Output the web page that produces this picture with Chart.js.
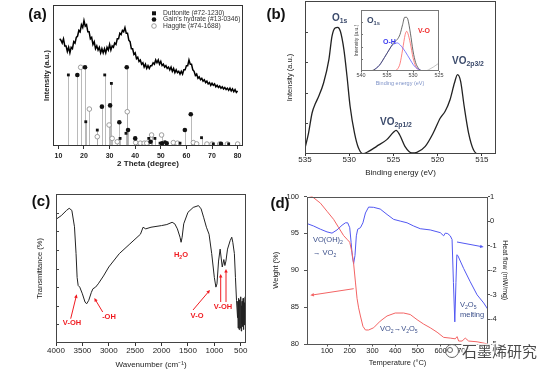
<!DOCTYPE html>
<html>
<head>
<meta charset="utf-8">
<script src="https://cdn.jsdelivr.net/npm/chart.js@4.4.1/dist/chart.umd.min.js"></script>
<style>
  body { margin: 0; background: #fff; }
  #fig { position: relative; width: 554px; height: 374px; overflow: hidden; background: #fff; }
  #fig canvas { position: absolute; }
</style>
</head>
<body>
<div id="fig">
  <canvas id="chartA" width="277" height="187" style="left:0;top:0"></canvas>
  <canvas id="chartB" width="299" height="187" style="left:255px;top:0"></canvas>
  <canvas id="chartInset" width="112" height="86" style="left:335px;top:4px"></canvas>
  <canvas id="chartC" width="277" height="187" style="left:0;top:187px"></canvas>
  <canvas id="chartD" width="292" height="187" style="left:262px;top:187px"></canvas>
</div>
<script>
// ---- (a) XRD pattern and reference cards ----
const xrdTheta = [
  10.5, 11, 11.5, 12, 12.5, 13, 13.5, 14, 14.5, 15, 15.5,
  16, 16.5, 17, 17.5, 18, 18.5, 19, 19.5, 20, 20.5,
  21, 21.5, 22, 22.5, 23, 23.5, 24, 24.5, 25, 25.5,
  26, 26.5, 27, 27.5, 28, 28.5, 29, 29.5, 30, 30.5,
  31, 31.5, 32, 32.5, 33, 33.5, 34, 34.5, 35, 35.5,
  36, 36.5, 37, 37.5, 38, 38.5, 39, 39.5, 40, 40.5,
  41, 41.5, 42, 42.5, 43, 43.5, 44, 44.5, 45, 45.5,
  46, 46.5, 47, 47.5, 48, 48.5, 49, 49.5, 50, 50.5,
  51, 51.5, 52, 52.5, 53, 53.5, 54, 54.5, 55, 55.5,
  56, 56.5, 57, 57.5, 58, 58.5, 59, 59.5, 60, 60.5,
  61, 61.5, 62, 62.5, 63, 63.5, 64, 64.5, 65, 65.5,
  66, 66.5, 67, 67.5, 68, 68.5, 69, 69.5, 70, 70.5,
  71, 71.5, 72, 72.5, 73, 73.5, 74, 74.5, 75, 75.5,
  76, 76.5, 77, 77.5, 78, 78.5, 79, 79.5, 80
];
const xrdIntensity = [
  76, 75, 73, 76, 71, 71, 67, 70, 66, 70, 69,
  74, 73, 77, 78, 82, 81, 86, 84, 89, 85,
  86, 81, 81, 76, 77, 72, 74, 69, 71, 68,
  70, 66, 69, 66, 69, 66, 70, 68, 72, 68,
  71, 70, 73, 72, 76, 76, 80, 79, 82, 81,
  84, 80, 80, 75, 74, 69, 69, 65, 66, 62,
  63, 60, 61, 58, 59, 56, 58, 55, 57, 55,
  57, 57, 59, 58, 61, 59, 61, 58, 60, 57,
  58, 56, 57, 55, 56, 54, 56, 53, 55, 52,
  54, 52, 53, 51, 53, 51, 54, 54, 57, 57,
  61, 58, 58, 54, 53, 50, 51, 48, 49, 47,
  48, 46, 47, 45, 46, 44, 45, 43, 44.5, 43,
  44, 42, 43, 41.5, 42.5, 41, 42, 40.5, 41.5, 40,
  41, 39.5, 41, 39, 40.5, 38.5, 40, 38, 39
];
const duttTheta = [13.9, 20.7, 25.2, 28.1, 30.7, 34.1, 36.4, 45.3, 47.7, 49.7, 51.6, 57.5, 65.9, 70.5, 76.5];
const duttIntensity = [50.4, 17.2, 11.3, 50.4, 44.4, 5.4, 9, 5.4, 5.4, 2, 3, 2, 5.9, 1.5, 1.5];
const gainTheta = [17.4, 20.4, 27.0, 30.2, 33.8, 36.7, 37.2, 40.0, 46.0, 50.5, 52.3, 59.4, 61.7, 73.5];
const gainIntensity = [50.4, 55.8, 27.9, 28.8, 16.8, 55.8, 11.3, 5.4, 3, 2, 2, 11.3, 22.5, 1.5];
const haggTheta = [18.7, 22.1, 25.2, 29.8, 31.0, 33.0, 36.9, 40.2, 42.0, 43.5, 44.5, 46.4, 50.3, 54.9, 56.5, 62.7, 64, 68, 70, 73, 76, 80];
const haggIntensity = [55.8, 26.2, 6.6, 14.9, 5.4, 3, 24.3, 2.4, 2, 2, 2, 7.8, 7.8, 2.4, 2, 2.4, 1.5, 1.4, 1.4, 1.4, 1.4, 1.4];
const thetaTicks = [10, 20, 30, 40, 50, 60, 70, 80];
const cardLabels = ['Duttonite (#72-1230)', "Gain's hydrate (#13-0346)", 'Haggite (#74-1688)'];

// ---- (b) XPS survey and O1s inset ----
const bEnergy = [535, 534.6, 534.2, 533.8, 533.45, 532.9, 532.3, 531.95, 531.6, 531.3, 531.0, 530.6, 530.25, 529.9, 529.4, 528.95, 528.45, 527.8, 526.9, 525.75, 525.0, 524.7, 524.3, 523.7, 522.9, 522.35, 521.4, 520.5, 519.7, 519.15, 518.6, 518.1, 517.75, 517.4, 517.0, 516.5, 515.95, 515.4, 513.4];
const bIntensity = [3.9, 13.7, 26.8, 33.3, 37.7, 46.4, 61.7, 76.9, 82.4, 82.8, 80.2, 68.2, 50.8, 31.2, 13.7, 3.9, 0.2, 1.7, 5, 9.4, 14.2, 15.5, 12.6, 5, 0.7, 1.1, 5, 13.7, 23.5, 27.9, 35.5, 46.4, 51.9, 47.5, 31.2, 13.7, 2.8, 0, 0];
const energyTicks = [535, 530, 525, 520, 515];

const insetEnergy = [540, 539, 538, 537.5, 537, 536.5, 536, 535.5, 535, 534.5, 534, 533.5, 533, 532.5, 532, 531.6, 531.3, 531, 530.5, 530, 529.5, 529, 528.5, 528, 527.5];
const insetTotal = [0, 0, 0.5, 2, 5, 9, 15, 22, 29, 36, 43, 48, 52, 60, 76, 88, 88, 85, 62, 33, 14, 5, 1, 0, 0];
const insetTailEnergy = [527.5, 527, 526, 525];
const insetTail = [0, 2, 7, 13];
const insetOHEnergy = [537.5, 537, 536.5, 536, 535.5, 535, 534.5, 534, 533.5, 533, 532.5, 532, 531.5, 531, 530.5, 530, 529.5, 529, 528.5, 528];
const insetOH = [2, 5, 9, 15, 22, 29, 36, 42, 45, 46, 43, 38, 32, 25, 18, 11, 6, 3, 1, 0];
const insetVOEnergy = [533.5, 533, 532.5, 532, 531.5, 531.2, 531, 530.5, 530, 529.5, 529, 528.5];
const insetVO = [0, 3, 12, 35, 60, 65, 62, 45, 22, 8, 2, 0];
const insetTicks = [540, 535, 530, 525];

// ---- (c) FTIR ----
const cWave = [4000, 3900, 3800, 3750, 3700, 3650, 3620, 3600, 3580, 3550, 3500, 3450, 3420, 3380, 3330, 3300, 3250, 3200, 3100, 3000,
  2800, 2600, 2400, 2350, 2300, 2200, 2000, 1900, 1800, 1750, 1700, 1650, 1630, 1610, 1580, 1500, 1400, 1300, 1250, 1200,
  1150, 1100, 1050, 1000, 970, 950, 920, 890, 870, 850, 820, 800, 780, 750, 700, 670, 650, 620, 600, 580, 560,
  555, 550, 545, 540, 535, 530, 525, 520, 515, 510, 505, 500, 495, 490, 485, 480,
  475, 470, 465, 460, 455, 450, 445, 440, 435, 430, 425, 420, 415, 410, 405, 400];
const cTrans = [83, 85.5, 89, 90.4, 89, 78, 60, 44, 38.6, 37.5, 33, 27.5, 26.3, 28.6, 34, 36.4, 37.5, 39.7, 45, 51,
  60, 66.5, 73, 77.7, 76.6, 77.7, 78.8, 79.5, 81, 80, 76.6, 71, 67.6, 71, 80, 87.7, 91, 92.2, 90, 84,
  77.7, 73, 60, 44, 37.5, 39.7, 55, 63, 57, 51, 56, 52, 55, 63, 68.7, 71, 67.6, 60, 44, 28.6, 17,
  28, 10, 26, 12, 30, 9, 24, 14, 29, 10, 22, 16, 31, 8, 25, 13,
  28, 11, 23, 17, 30, 9, 26, 14, 27, 12, 24, 18, 31, 15, 27, 20];
const waveTicks = [4000, 3500, 3000, 2500, 2000, 1500, 1000, 500];

// ---- (d) TGA / DSC ----
const dWeightT = [12, 34, 71, 100, 129, 151, 173, 188, 200, 210, 217, 225, 232, 239, 247, 258, 269, 283, 305, 334, 364, 400, 437, 466, 496, 525, 554, 584, 613, 642, 664, 672, 679, 694, 708, 723, 760, 808];
const dWeight = [100.2, 100, 99.1, 98, 96.9, 95.8, 94.7, 94.2, 93.8, 92.4, 90.9, 88.4, 86.2, 84.9, 83.8, 82.4, 81.9, 81.9, 82.2, 83.1, 83.8, 84.2, 84.2, 84, 83.3, 82.7, 82.2, 81.6, 80.9, 80.8, 80.7, 81, 80.4, 80.4, 80.8, 80.4, 80.3, 80];
const dHeatT = [12, 41, 71, 100, 122, 144, 166, 181, 191, 200, 206, 211, 217, 223, 229, 235, 247, 258, 269, 283, 305, 334, 364, 393, 422, 452, 481, 510, 554, 598, 613, 620, 631, 642, 650, 656, 662, 667, 671, 675, 680, 701, 730, 760, 789, 808];
const dHeat = [-0.1, -0.2, -0.33, -0.44, -0.49, -0.36, -0.17, -0.07, -0.07, -0.27, -0.87, -1.4, -1.73, -1.4, -0.6, -0.33, -0.27, -0.07, 0.33, 0.57, 0.56, 0.49, 0.27, 0.07, 0, -0.07, -0.2, -0.31, -0.36, -0.47, -0.6, -0.49, -0.51, -0.6, -0.75, -2.5, -4.1, -2.5, -1.37, -1.4, -1.5, -1.93, -2.47, -3, -3.33, -3.6];
const tempTicks = [100, 200, 300, 400, 500, 600, 700];
const weightTicks = [80, 85, 90, 95, 100];
const heatTicks = [-5, -4, -3, -2, -1, 0, 1];

const FONT = "'Liberation Sans', Arial, sans-serif";
Chart.defaults.font.family = FONT;
Chart.defaults.color = '#222';
Chart.defaults.animation = false;
Chart.defaults.responsive = false;
Chart.defaults.events = [];
Chart.defaults.plugins.legend.display = false;
Chart.defaults.plugins.tooltip.enabled = false;
Chart.defaults.elements.point.radius = 0;

/**
 * Pairs two arrays into {x, y} points
 */
function xy(xs, ys) {
    return xs.map((x, i) => ({ x: x, y: ys[i] }));
}

/**
 * Returns an afterBuildTicks hook that forces a fixed tick list
 */
function fixTicks(values) {
    return function(scale) {
        scale.ticks = values.map(v => ({ value: v }));
    };
}

function font(size, bold) {
    return { family: FONT, size: size, weight: bold ? 'bold' : 'normal' };
}

/**
 * Draws text made of pieces, some of them subscript or superscript
 */
function drawRich(ctx, t) {
    const size = t.size || 8;
    const weight = t.bold ? 'bold ' : '';
    const widths = [];
    let total = 0;
    t.parts.forEach(p => {
        ctx.font = weight + (p[1] ? size * 0.68 : size) + 'px ' + FONT;
        const w = ctx.measureText(p[0]).width;
        widths.push(w);
        total += w;
    });
    let x = t.x;
    if (t.align === 'center') x -= total / 2;
    ctx.fillStyle = t.color || '#222';
    ctx.textAlign = 'left';
    ctx.textBaseline = 'middle';
    t.parts.forEach((p, i) => {
        ctx.font = weight + (p[1] ? size * 0.68 : size) + 'px ' + FONT;
        let dy = 0;
        if (p[1] === 'sub') dy = size * 0.32;
        if (p[1] === 'sup') dy = -size * 0.35;
        ctx.fillText(p[0], x, t.y + dy);
        x += widths[i];
    });
}

/**
 * Draws a straight arrow with a filled head at (x2, y2)
 */
function drawArrow(ctx, a) {
    const ang = Math.atan2(a.y2 - a.y1, a.x2 - a.x1);
    const hl = a.head || 4;
    ctx.strokeStyle = a.color;
    ctx.fillStyle = a.color;
    ctx.lineWidth = a.width || 1;
    ctx.beginPath();
    ctx.moveTo(a.x1, a.y1);
    ctx.lineTo(a.x2 - Math.cos(ang) * hl * 0.7, a.y2 - Math.sin(ang) * hl * 0.7);
    ctx.stroke();
    ctx.beginPath();
    ctx.moveTo(a.x2, a.y2);
    ctx.lineTo(a.x2 - hl * Math.cos(ang - 0.45), a.y2 - hl * Math.sin(ang - 0.45));
    ctx.lineTo(a.x2 - hl * Math.cos(ang + 0.45), a.y2 - hl * Math.sin(ang + 0.45));
    ctx.closePath();
    ctx.fill();
}

function drawMarker(ctx, m) {
    ctx.save();
    ctx.lineWidth = 0.8;
    if (m.style === 'rect') {
        ctx.fillStyle = '#111';
        ctx.fillRect(m.x - 2, m.y - 2, 4, 4);
    } else {
        ctx.beginPath();
        ctx.arc(m.x, m.y, 2.3, 0, Math.PI * 2);
        if (m.style === 'open') {
            ctx.fillStyle = '#fff';
            ctx.strokeStyle = '#888';
            ctx.fill();
            ctx.stroke();
        } else {
            ctx.fillStyle = '#111';
            ctx.fill();
        }
    }
    ctx.restore();
}

// box round the plot area, optional white fill and inward ticks
const framePlugin = {
    id: 'frame',
    beforeDatasetsDraw(chart, args, opts) {
        if (!opts.fill) return;
        const a = chart.chartArea;
        chart.ctx.save();
        chart.ctx.fillStyle = opts.fill;
        chart.ctx.fillRect(a.left, a.top, a.right - a.left, a.bottom - a.top);
        chart.ctx.restore();
    },
    afterDatasetsDraw(chart, args, opts) {
        const a = chart.chartArea;
        const ctx = chart.ctx;
        ctx.save();
        ctx.strokeStyle = opts.color || '#333';
        ctx.lineWidth = 1;
        ctx.strokeRect(Math.round(a.left) + 0.5, Math.round(a.top) + 0.5,
            Math.round(a.right - a.left) - 1, Math.round(a.bottom - a.top) - 1);
        (opts.inTicks || []).forEach(t => {
            const s = chart.scales[t.axis];
            t.values.forEach(v => {
                const p = Math.round(s.getPixelForValue(v)) + 0.5;
                ctx.beginPath();
                ctx.moveTo(a.left, p);
                ctx.lineTo(a.left + t.len, p);
                ctx.stroke();
            });
        });
        ctx.restore();
    }
};

// thin drop lines from each reference card marker to the baseline
const sticksPlugin = {
    id: 'sticks',
    beforeDatasetsDraw(chart) {
        const ctx = chart.ctx;
        const base = chart.scales.y.getPixelForValue(0);
        ctx.save();
        ctx.strokeStyle = '#a8a8a8';
        ctx.lineWidth = 0.8;
        chart.data.datasets.forEach((ds, i) => {
            if (!ds.stick) return;
            chart.getDatasetMeta(i).data.forEach(pt => {
                ctx.beginPath();
                ctx.moveTo(Math.round(pt.x) + 0.5, base);
                ctx.lineTo(Math.round(pt.x) + 0.5, pt.y);
                ctx.stroke();
            });
        });
        ctx.restore();
    }
};

// labels, arrows and legend entries
const notesPlugin = {
    id: 'notes',
    afterDraw(chart, args, opts) {
        const ctx = chart.ctx;
        ctx.save();
        (opts.arrows || []).forEach(a => drawArrow(ctx, a));
        (opts.markers || []).forEach(m => drawMarker(ctx, m));
        (opts.texts || []).forEach(t => drawRich(ctx, t));
        if (opts.watermark) {
            const w = opts.watermark;
            ctx.strokeStyle = '#666';
            ctx.lineWidth = 1;
            ctx.beginPath();
            ctx.arc(w.x - 10, w.y, 6.5, 0, Math.PI * 2);
            ctx.stroke();
            ctx.beginPath();
            ctx.arc(w.x - 12, w.y - 1, 2.5, 0, Math.PI * 2);
            ctx.stroke();
            ctx.font = "15px 'Noto Sans CJK SC', sans-serif";
            ctx.textAlign = 'left';
            ctx.textBaseline = 'middle';
            ctx.lineWidth = 3;
            ctx.strokeStyle = 'rgba(255,255,255,0.9)';
            ctx.strokeText(w.text, w.x, w.y);
            ctx.fillStyle = '#4a4a4a';
            ctx.fillText(w.text, w.x, w.y);
        }
        ctx.restore();
    }
};

function outerGrid(len, color) {
    return { display: true, drawOnChartArea: false, drawTicks: true, tickLength: len, color: color || '#333' };
}

const noGrid = { display: false };
const noBorder = { display: false };

// ---------- (a) ----------
new Chart(document.getElementById('chartA'), {
    type: 'scatter',
    data: {
        datasets: [
            { data: xy(xrdTheta, xrdIntensity), showLine: true, borderColor: '#000', borderWidth: 1.5, pointRadius: 0 },
            { data: xy(duttTheta, duttIntensity), pointStyle: 'rect', pointRadius: 2, backgroundColor: '#111', borderColor: '#111', borderWidth: 0, stick: true },
            { data: xy(gainTheta, gainIntensity), pointStyle: 'circle', pointRadius: 2.3, backgroundColor: '#111', borderColor: '#111', borderWidth: 0, stick: true },
            { data: xy(haggTheta, haggIntensity), pointStyle: 'circle', pointRadius: 2.3, backgroundColor: '#fff', borderColor: '#888', borderWidth: 0.8, stick: true }
        ]
    },
    options: {
        layout: { padding: { left: 0, top: 5, right: 34, bottom: 0 } },
        scales: {
            x: {
                type: 'linear', min: 7.9, max: 82.1,
                afterBuildTicks: fixTicks(thetaTicks),
                afterFit: s => { s.height = 41; },
                grid: outerGrid(3), border: noBorder,
                ticks: { font: font(7, true), padding: 2.5, maxRotation: 0, autoSkip: false, callback: v => v },
                title: { display: true, text: '2 Theta (degree)', font: font(8, true), padding: { top: 0, bottom: 18 } }
            },
            y: {
                min: 0, max: 100,
                afterFit: s => { s.width = 53; },
                grid: noGrid, border: noBorder, ticks: { display: false },
                title: { display: true, text: 'Intensity (a.u.)', font: font(7.5, true), padding: { top: 42, bottom: 0 } }
            }
        },
        plugins: {
            frame: { color: '#333' },
            notes: {
                markers: [
                    { x: 154, y: 13.3, style: 'rect' },
                    { x: 154, y: 19.5, style: 'circle' },
                    { x: 154, y: 26, style: 'open' }
                ],
                texts: [
                    { x: 37.5, y: 15, parts: [['(a)', '']], size: 15, bold: true, color: '#111', align: 'center' },
                    { x: 163, y: 13.3, parts: [[cardLabels[0], '']], size: 6.7, color: '#333' },
                    { x: 163, y: 19.5, parts: [[cardLabels[1], '']], size: 6.7, color: '#333' },
                    { x: 163, y: 26, parts: [[cardLabels[2], '']], size: 6.7, color: '#333' }
                ]
            }
        }
    },
    plugins: [framePlugin, sticksPlugin, notesPlugin]
});

// ---------- (b) ----------
const labelBlue = '#3b4a6b';
new Chart(document.getElementById('chartB'), {
    type: 'scatter',
    data: {
        datasets: [
            { data: xy(bEnergy, bIntensity), showLine: true, borderColor: '#222', borderWidth: 1.3, pointRadius: 0, cubicInterpolationMode: 'monotone' }
        ]
    },
    options: {
        layout: { padding: { left: 0, top: 1, right: 58, bottom: 0 } },
        scales: {
            x: {
                type: 'linear', min: 513.4, max: 535, reverse: true,
                afterBuildTicks: fixTicks(energyTicks),
                afterFit: s => { s.height = 33; },
                grid: outerGrid(2), border: noBorder,
                ticks: { font: font(8), padding: -1, maxRotation: 0, autoSkip: false, callback: v => v },
                title: { display: true, text: 'Binding energy (eV)', font: font(8), padding: { top: 0, bottom: 9 } }
            },
            y: {
                min: 0, max: 100,
                afterFit: s => { s.width = 50; },
                grid: noGrid, border: noBorder, ticks: { display: false },
                title: { display: true, text: 'Intensity (a.u.)', font: font(7.5), padding: { top: 30.5, bottom: 0 } }
            }
        },
        plugins: {
            frame: { color: '#444', inTicks: [{ axis: 'y', values: [20, 40, 60, 80], len: 3 }] },
            notes: {
                texts: [
                    { x: 21, y: 15, parts: [['(b)', '']], size: 15, bold: true, color: '#111', align: 'center' },
                    { x: 77, y: 18, parts: [['O', ''], ['1s', 'sub']], size: 10, bold: true, color: labelBlue },
                    { x: 125, y: 122, parts: [['VO', ''], ['2p1/2', 'sub']], size: 10, bold: true, color: labelBlue },
                    { x: 197, y: 61, parts: [['VO', ''], ['2p3/2', 'sub']], size: 10, bold: true, color: labelBlue }
                ]
            }
        }
    },
    plugins: [framePlugin, notesPlugin]
});

// ---------- (b) inset ----------
new Chart(document.getElementById('chartInset'), {
    type: 'scatter',
    data: {
        datasets: [
            { data: xy(insetEnergy, insetTotal), showLine: true, borderColor: '#444', borderWidth: 0.8, pointRadius: 0, cubicInterpolationMode: 'monotone' },
            { data: xy(insetTailEnergy, insetTail), showLine: true, borderColor: '#b5b5b5', borderWidth: 0.8, pointRadius: 0, cubicInterpolationMode: 'monotone' },
            { data: xy(insetOHEnergy, insetOH), showLine: true, borderColor: '#6060ff', borderWidth: 0.8, pointRadius: 0, cubicInterpolationMode: 'monotone' },
            { data: xy(insetVOEnergy, insetVO), showLine: true, borderColor: '#ff6262', borderWidth: 0.8, pointRadius: 0, cubicInterpolationMode: 'monotone' }
        ]
    },
    options: {
        layout: { padding: { left: 0, top: 6, right: 8, bottom: 0 } },
        scales: {
            x: {
                type: 'linear', min: 525, max: 540, reverse: true,
                afterBuildTicks: fixTicks(insetTicks),
                afterFit: s => { s.height = 19; },
                grid: outerGrid(1.5, '#666'), border: noBorder,
                ticks: { font: font(5.5), color: '#444', padding: -0.8, maxRotation: 0, autoSkip: false, callback: v => v },
                title: { display: true, text: 'Binding energy (eV)', color: '#7f93c8', font: font(5.5), padding: { top: 0, bottom: 3.7 } }
            },
            y: {
                min: 0, max: 100,
                afterFit: s => { s.width = 26; },
                grid: noGrid, border: noBorder, ticks: { display: false },
                title: { display: true, text: 'Intensity (a.u.)', color: '#444', font: font(5), padding: { top: 19, bottom: 0 } }
            }
        },
        plugins: {
            frame: { color: '#777', fill: '#fff', inTicks: [{ axis: 'y', values: [20, 40, 60, 80], len: 2 }] },
            notes: {
                texts: [
                    { x: 32, y: 17, parts: [['O', ''], ['1s', 'sub']], size: 8.5, bold: true, color: labelBlue },
                    { x: 48, y: 38, parts: [['O-H', '']], size: 7, bold: true, color: '#3a3af0' },
                    { x: 83, y: 27, parts: [['V-O', '']], size: 7, bold: true, color: '#f02e2e' }
                ]
            }
        }
    },
    plugins: [framePlugin, notesPlugin]
});

// ---------- (c) ----------
const red = '#f01c22';
new Chart(document.getElementById('chartC'), {
    type: 'scatter',
    data: {
        datasets: [
            { data: xy(cWave, cTrans), showLine: true, borderColor: '#222', borderWidth: 1, pointRadius: 0 }
        ]
    },
    options: {
        layout: { padding: { left: 0, top: 7, right: 31, bottom: 0 } },
        scales: {
            x: {
                type: 'linear', min: 400, max: 4000, reverse: true,
                afterBuildTicks: fixTicks(waveTicks),
                afterFit: s => { s.height = 31; },
                grid: outerGrid(3), border: noBorder,
                ticks: { font: font(8), padding: 0, maxRotation: 0, autoSkip: false, callback: v => v },
                title: { display: true, text: 'Wavenumber (cm\u207B\u00B9)', font: font(8), padding: { top: 0, bottom: 4.2 } }
            },
            y: {
                min: 0, max: 100,
                afterFit: s => { s.width = 56; },
                grid: noGrid, border: noBorder, ticks: { display: false },
                title: { display: true, text: 'Transmittance (%)', font: font(7.5), padding: { top: 35.5, bottom: 0 } }
            }
        },
        plugins: {
            frame: { color: '#444', inTicks: [{ axis: 'y', values: [12.5, 25, 37.5, 50, 62.5, 75, 87.5], len: 3 }] },
            notes: {
                arrows: [
                    { x1: 70.7, y1: 131.7, x2: 76.7, y2: 107.3, color: red },
                    { x1: 102.7, y1: 125, x2: 94.3, y2: 111, color: red },
                    { x1: 193, y1: 123, x2: 210, y2: 103, color: red },
                    { x1: 220.7, y1: 115, x2: 220.7, y2: 87, color: red },
                    { x1: 226, y1: 115, x2: 226, y2: 82, color: red }
                ],
                texts: [
                    { x: 41, y: 15, parts: [['(c)', '']], size: 15, bold: true, color: '#111', align: 'center' },
                    { x: 72, y: 136, parts: [['V-OH', '']], size: 7.5, bold: true, color: red, align: 'center' },
                    { x: 109, y: 130, parts: [['-OH', '']], size: 7.5, bold: true, color: red, align: 'center' },
                    { x: 181, y: 68, parts: [['H', ''], ['2', 'sub'], ['O', '']], size: 7.5, bold: true, color: red, align: 'center' },
                    { x: 197, y: 129, parts: [['V-O', '']], size: 7.5, bold: true, color: red, align: 'center' },
                    { x: 223, y: 120, parts: [['V-OH', '']], size: 7.5, bold: true, color: red, align: 'center' }
                ]
            }
        }
    },
    plugins: [framePlugin, notesPlugin]
});

// ---------- (d) ----------
const tgaBlue = '#3b4f8a';
new Chart(document.getElementById('chartD'), {
    type: 'scatter',
    data: {
        datasets: [
            { data: xy(dWeightT, dWeight), showLine: true, borderColor: '#f36464', borderWidth: 1, pointRadius: 0, yAxisID: 'y' },
            { data: xy(dHeatT, dHeat), showLine: true, borderColor: '#5258f2', borderWidth: 1, pointRadius: 0, yAxisID: 'y2' }
        ]
    },
    options: {
        layout: { padding: { left: 0, top: 7, right: 0, bottom: 0 } },
        scales: {
            x: {
                type: 'linear', min: 12, max: 808,
                afterBuildTicks: fixTicks(tempTicks),
                afterFit: s => { s.height = 30; },
                grid: outerGrid(2.5, '#555'), border: noBorder,
                ticks: { font: font(7.5), padding: 0, maxRotation: 0, autoSkip: false, callback: v => v },
                title: { display: true, text: 'Temperature (\u00B0C)', font: font(7.5), padding: { top: 0, bottom: 6.5 } }
            },
            y: {
                position: 'left', min: 80, max: 100,
                afterBuildTicks: fixTicks(weightTicks),
                afterFit: s => { s.width = 45; },
                grid: outerGrid(3, '#555'), border: noBorder,
                ticks: { font: font(7.5), padding: 5, autoSkip: false, callback: v => v },
                title: { display: true, text: 'Weight (%)', font: font(7.5), padding: { top: 9.5, bottom: 0 } }
            },
            y2: {
                position: 'right', min: -5, max: 1,
                afterBuildTicks: fixTicks(heatTicks),
                afterFit: s => { s.width = 66; },
                grid: outerGrid(2, '#555'), border: noBorder,
                ticks: { font: font(7.5), padding: 0, autoSkip: false, callback: v => v },
                title: { display: true, text: 'Heat flow (mW/mg)', font: font(7), padding: { top: 44.8, bottom: 0 } }
            }
        },
        plugins: {
            frame: { color: '#555' },
            notes: {
                arrows: [
                    { x1: 91.7, y1: 101.7, x2: 48.3, y2: 108.3, color: '#f36464', head: 4 },
                    { x1: 195, y1: 55, x2: 221.7, y2: 60, color: '#5258f2', head: 4 }
                ],
                texts: [
                    { x: 18, y: 17, parts: [['(d)', '']], size: 15, bold: true, color: '#111', align: 'center' },
                    { x: 51, y: 53, parts: [['VO(OH)', ''], ['2', 'sub']], size: 7.5, color: tgaBlue },
                    { x: 51, y: 66, parts: [['\u2192 VO', ''], ['2', 'sub']], size: 7.5, color: tgaBlue },
                    { x: 118, y: 142, parts: [['VO', ''], ['2', 'sub'], ['\u2192V', ''], ['2', 'sub'], ['O', ''], ['5', 'sub']], size: 7.5, color: tgaBlue },
                    { x: 198, y: 118, parts: [['V', ''], ['2', 'sub'], ['O', ''], ['5', 'sub']], size: 7.5, color: tgaBlue },
                    { x: 198, y: 128, parts: [['melting', '']], size: 7.5, color: tgaBlue }
                ],
                watermark: { x: 200, y: 164, text: '石墨烯研究' }
            }
        }
    },
    plugins: [framePlugin, notesPlugin]
});
</script>
</body>
</html>
